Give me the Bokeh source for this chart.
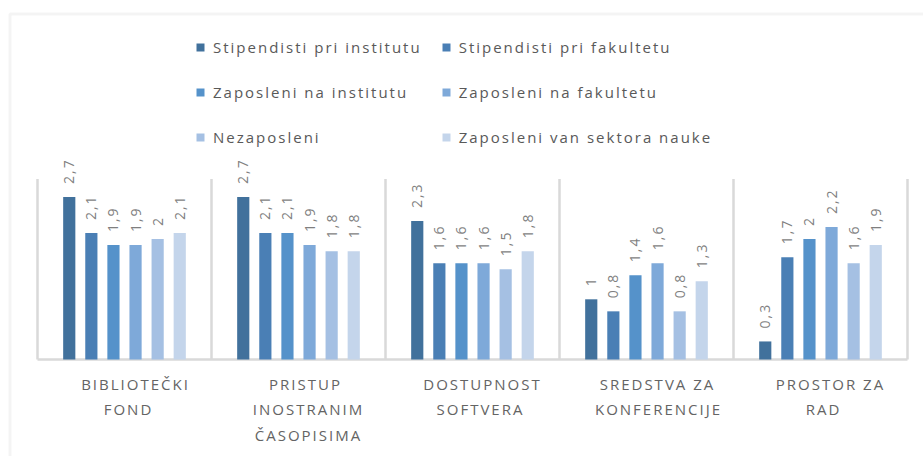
import numpy as np
from bokeh.plotting import figure
from bokeh.models import ColumnDataSource, Range1d, Legend, LegendItem, BoxAnnotation
from bokeh.core.properties import value
from bokeh.embed import file_html
from bokeh.resources import INLINE

# ---------------- data ----------------
categories = [
    "BIBLIOTEČKI\nFOND",
    "PRISTUP\nINOSTRANIM\nČASOPISIMA",
    "DOSTUPNOST\nSOFTVERA",
    "SREDSTVA ZA\nKONFERENCIJE",
    "PROSTOR ZA\nRAD",
]
series_names = [
    "Stipendisti pri institutu",
    "Stipendisti pri fakultetu",
    "Zaposleni na institutu",
    "Zaposleni na fakultetu",
    "Nezaposleni",
    "Zaposleni van sektora nauke",
]
stipendisti_institut = [2.7, 2.7, 2.3, 1.0, 0.3]
stipendisti_fakultet = [2.1, 2.1, 1.6, 0.8, 1.7]
zaposleni_institut = [1.9, 2.1, 1.6, 1.4, 2.0]
zaposleni_fakultet = [1.9, 1.9, 1.6, 1.6, 2.2]
nezaposleni = [2.0, 1.8, 1.5, 0.8, 1.6]
zaposleni_van = [2.1, 1.8, 1.8, 1.3, 1.9]
series_values = [stipendisti_institut, stipendisti_fakultet, zaposleni_institut,
                 zaposleni_fakultet, nezaposleni, zaposleni_van]
colors = ["#41719c", "#4a7fb5", "#5592ca", "#7ea9d9", "#a5c0e3", "#c4d5eb"]
axis_max = 3

# ---------------- layout constants ----------------
W, H = 923, 456
PLOT_LEFT = 37      # px of left edge of first category
GROUP_W = 174       # px per category
BASE_Y = 359        # px of value 0
PX_PER_UNIT = 60.2  # px per value unit
PITCH = 0.127       # bar pitch inside a category (category units)
BAR_W = 0.07

def px_x(px):
    return (px - PLOT_LEFT) / GROUP_W

def px_y(py):
    return (BASE_Y - py) / PX_PER_UNIT

p = figure(width=W, height=H,
           x_range=Range1d(px_x(0), px_x(W)), y_range=Range1d(px_y(H), px_y(0)),
           x_axis_location=None, y_axis_location=None,
           min_border=0, min_border_left=0, min_border_right=0,
           min_border_top=0, min_border_bottom=0,
           outline_line_color=None, toolbar_location=None,
           output_backend="svg", background_fill_color="white",
           border_fill_color="white")
p.grid.visible = False
p.styles = {"letter-spacing": "2px"}

# outer chart border (top & left visible)
p.add_layout(BoxAnnotation(left=px_x(9.5), top=px_y(13.5), right=px_x(3000), bottom=px_y(3000),
                           fill_color=None, line_color="#d9d9d9", line_width=3, level="underlay"))

n_cat = len(categories)
bounds = list(range(n_cat + 1))
p.segment(x0=bounds, y0=[0] * len(bounds), x1=bounds, y1=[axis_max] * len(bounds),
          line_color="#d9d9d9", line_width=2.5)
p.segment(x0=[0], y0=[0], x1=[n_cat], y1=[0], line_color="#d9d9d9", line_width=2.5)

items = []
for k, (name, vals, col) in enumerate(zip(series_names, series_values, colors)):
    xs = [i + 0.5 + (k - 2.5) * PITCH for i in range(n_cat)]
    labels = [f"{v:g}".replace(".", ",") for v in vals]
    src = ColumnDataSource(dict(x=xs, top=vals, label=labels))
    r = p.vbar(x="x", top="top", width=BAR_W, source=src, fill_color=col, line_color=None)
    p.text(x="x", y="top", text="label", source=src, angle=90, angle_units="deg",
           text_align="left", text_baseline="middle", y_offset=-13,
           text_font=value("Open Sans"), text_font_size="14px", text_color="#7f7f7f")
    items.append(LegendItem(label=name, renderers=[r]))

cat_src = ColumnDataSource(dict(x=[i + 0.5 for i in range(n_cat)], y=[0] * n_cat, text=categories))
p.text(x="x", y="y", text="text", source=cat_src, text_align="center", text_baseline="top",
       y_offset=14, text_line_height=1.28, text_font=value("Open Sans"),
       text_font_size="15px", text_color="#646464")

legend = Legend(items=items, ncols=2, orientation="horizontal", location=(195, 306),
                border_line_color=None, background_fill_alpha=0, padding=0, margin=0,
                glyph_width=10, glyph_height=10, label_standoff=8, spacing=19,
                label_width=150, label_height=26,
                label_text_font="Open Sans", label_text_font_size="15px",
                label_text_color="#595959")
p.add_layout(legend)

open("out.html", "w").write(file_html(p, INLINE))
